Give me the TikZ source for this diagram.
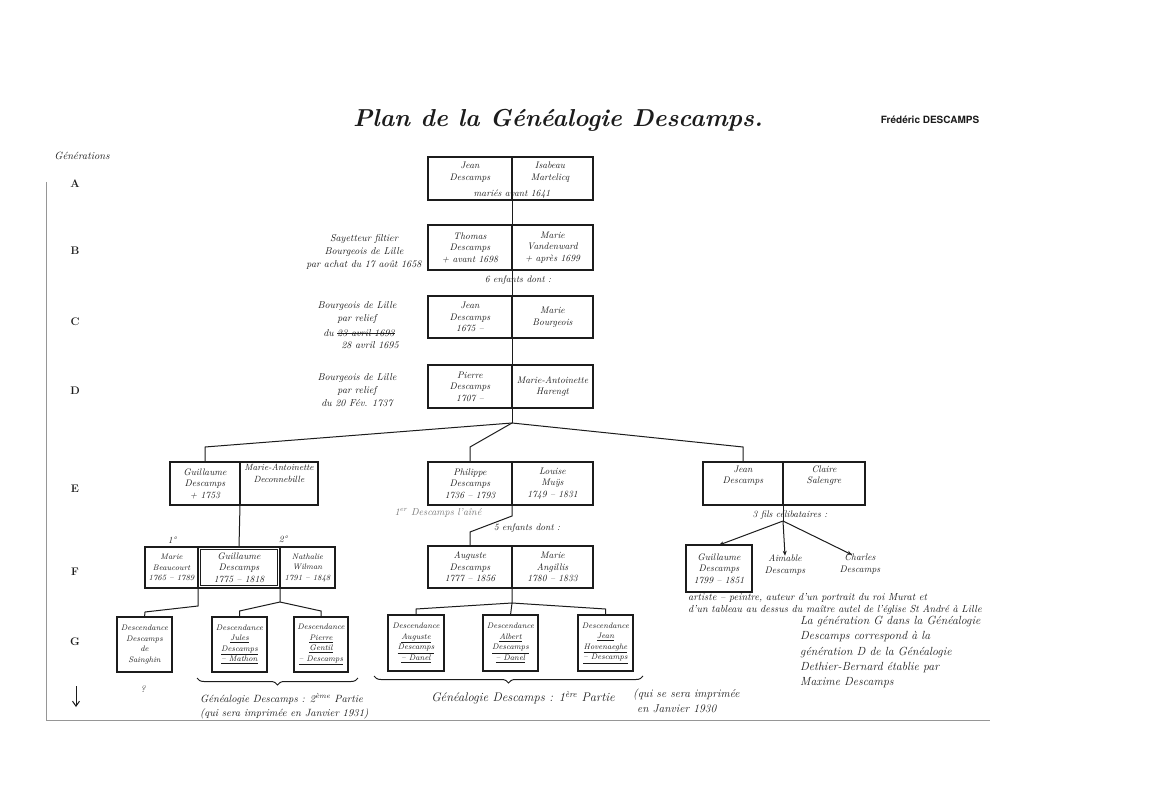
\documentclass[tikz,border=0pt]{standalone}
\usepackage{fontspec}
\newfontfamily\herosfont{TeX Gyre Heros}
\usetikzlibrary{decorations.pathreplacing,arrows.meta}
\definecolor{ink}{RGB}{28,28,28}
\definecolor{pencil}{RGB}{120,120,120}
\definecolor{frameline}{RGB}{150,150,150}
\newcommand\handfont{\fontsize{9.5}{11.5}\selectfont\itshape}
\newcommand\labfont{\fontsize{10}{13}\selectfont\itshape}
\newcommand\smallhand{\fontsize{8}{10.5}\selectfont\itshape}
\newcommand\genfont{\fontsize{11}{13}\selectfont\bfseries}
\begin{document}
\begin{tikzpicture}[x=1pt,y=-1pt,
  half/.style={draw=ink, line width=1.1pt, inner sep=0pt, outer sep=0pt, align=center, font=\handfont, text=ink},
  heavy/.style={half, line width=2pt},
  gbox/.style={half, font=\smallhand, minimum width=55pt, minimum height=55pt},
  lbl/.style={inner sep=0pt, align=center, font=\handfont, text=ink},
  note/.style={inner sep=0pt, anchor=west, align=left, font=\handfont, text=ink},
  gen/.style={inner sep=0pt, font=\genfont, text=ink},
  conn/.style={draw=ink, line width=1pt},
  brc/.style={draw=ink, line width=1pt, decorate, decoration={brace, amplitude=7pt, mirror}}]
\fill[white] (0,0) rectangle (1153,786);
\useasboundingbox (0,0) rectangle (1153,786);

% title
\node[lbl, font=\fontsize{24.5}{28}\selectfont\bfseries\itshape] (title) at (558,120) {Plan de la Généalogie Descamps.};
\node[lbl, font=\fontsize{10}{12}\selectfont\herosfont\bfseries] (author) at (930,120) {Frédéric DESCAMPS};

% generations column
\node[lbl, font=\fontsize{10.5}{12}\selectfont\itshape] (gtitle) at (82,156) {Générations};
\node[gen] (gA) at (75,184) {A};
\node[gen] (gB) at (75,251) {B};
\node[gen] (gC) at (75,322) {C};
\node[gen] (gD) at (75,391) {D};
\node[gen] (gE) at (75,489) {E};
\node[gen] (gF) at (75,572) {F};
\node[gen] (gG) at (75,642) {G};
\coordinate (arrS) at (76,686);
\coordinate (arrE) at (76,707);
\draw[conn, -{Straight Barb[length=5pt,width=7pt]}] (arrS) -- (arrE);

% frame
\coordinate (fr1) at (46,182);
\coordinate (fr2) at (46,720);
\coordinate (fr3) at (990,720);
\draw[frameline, line width=0.9pt] (fr1) -- (fr2) -- (fr3);

% generation A
\node[half, minimum width=84pt, minimum height=43pt] (Al) at (470,178.5) {};
\node[half, minimum width=81pt, minimum height=43pt] (Ar) at (552.5,178.5) {};
\node[lbl] (At1) at (470,172) {Jean\\Descamps};
\node[lbl] (At2) at (550,172) {Isabeau\\Martelicq};
\node[lbl] (At3) at (512,194) {mariés avant 1641};

% generation B
\node[half, minimum width=84pt, minimum height=45pt] (Bl) at (470,247.5) {Thomas\\Descamps\\+ avant 1698};
\node[half, minimum width=81pt, minimum height=45pt] (Br) at (552.5,247.5) {Marie\\Vandenward\\+ après 1699};
\node[lbl, font=\labfont] (Blab) at (364,252) {Sayetteur filtier\\Bourgeois de Lille\\par achat du 17 août 1658};
\node[lbl] (Bkids) at (518,280) {6 enfants dont :};

% generation C
\node[half, minimum width=84pt, minimum height=42pt] (Cl) at (470,317) {Jean\\Descamps\\1675 –};
\node[half, minimum width=81pt, minimum height=42pt] (Cr) at (552.5,317) {Marie\\Bourgeois};
\node[lbl, font=\labfont] (Clab) at (357,313) {Bourgeois de Lille\\par relief};
\node[lbl, font=\labfont, anchor=east] (Cdu) at (334,333) {du};
\node[lbl, font=\labfont, anchor=west] (Cstr) at (337,333) {23 avril 1693};
\draw[ink, line width=0.8pt] (Cstr.west) -- (Cstr.east);
\node[lbl, font=\labfont] (Cdate) at (370,345) {28 avril 1695};

% generation D
\node[half, minimum width=84pt, minimum height=43pt] (Dl) at (470,386.5) {Pierre\\Descamps\\1707 –};
\node[half, minimum width=81pt, minimum height=43pt] (Dr) at (552.5,386.5) {Marie-Antoinette\\Harengt};
\node[lbl, font=\labfont] (Dlab) at (357,390) {Bourgeois de Lille\\par relief\\du 20 Fév. 1737};

% spine
\coordinate (J) at (512,423);
\draw[conn] (Al.south east) -- (Bl.north east);
\draw[conn] (Bl.south east) -- (Cl.north east);
\draw[conn] (Cl.south east) -- (Dl.north east);
\draw[conn] (Dl.south east) -- (J);

% generation E
\node[half, minimum width=70pt, minimum height=43pt] (E1l) at (205,483.5) {Guillaume\\Descamps\\+ 1753};
\node[half, font=\fontsize{9}{11.5}\selectfont\itshape, minimum width=78pt, minimum height=43pt] (E1r) at (279,483.5) {Marie-Antoinette\\Deconnebille\\[9pt]};
\node[half, minimum width=84pt, minimum height=43pt] (E2l) at (470,483.5) {Philippe\\Descamps\\1736 – 1793};
\node[half, minimum width=81pt, minimum height=43pt] (E2r) at (552.5,483.5) {Louise\\Muÿs\\1749 – 1831};
\node[half, minimum width=80pt, minimum height=43pt] (E3l) at (743,483.5) {Jean\\Descamps\\[6pt]};
\node[half, minimum width=82pt, minimum height=43pt] (E3r) at (824,483.5) {Claire\\Salengre\\[6pt]};
\coordinate (jE1) at (205,447);
\coordinate (jE2) at (470,447);
\coordinate (jE3) at (743,447);
\draw[conn] (J) -- (jE1) -- (E1l.north);
\draw[conn] (J) -- (jE2) -- (E2l.north);
\draw[conn] (J) -- (jE3) -- (E3l.north);

% generation F (middle)
\node[inner sep=0pt, font=\labfont, text=pencil] (aine) at (438,513) {1\textsuperscript{er} Descamps l'aîné};
\node[lbl] (Ekids) at (527,528) {5 enfants dont :};
\node[heavy, minimum width=84pt, minimum height=42pt] (F2l) at (470,567) {Auguste\\Descamps\\1777 – 1856};
\node[heavy, minimum width=81pt, minimum height=42pt] (F2r) at (552.5,567) {Marie\\Angillis\\1780 – 1833};
\coordinate (kE2a) at (512,516);
\coordinate (kE2b) at (470,532);
\draw[conn] (E2l.south east) -- (kE2a) -- (kE2b) -- (F2l.north);

% generation F (left)
\node[lbl] (n1) at (172,540) {1°};
\node[lbl] (n2) at (283,539) {2°};
\node[half, font=\smallhand, minimum width=53pt, minimum height=41pt] (F1a) at (171.5,567.5) {Marie\\Beaucourt\\1765 – 1789};
\node[half, font=\handfont, minimum width=82pt, minimum height=41pt] (F1m) at (239,567.5) {Guillaume\\Descamps\\1775 – 1818};
\node[half, font=\smallhand, minimum width=55pt, minimum height=41pt] (F1c) at (307.5,567.5) {Nathalie\\Wilman\\1791 – 1848};
\draw[ink, line width=0.6pt] ([shift={(2.5pt,2.5pt)}]F1m.south west) rectangle ([shift={(-2.5pt,-2.5pt)}]F1m.north east);
\draw[conn] (E1l.south east) -- (F1m.north);

% generation F (right)
\node[lbl] (E3kids) at (790,515) {3 fils célibataires :};
\node[half, minimum width=66pt, minimum height=47pt] (GE) at (719,568.5) {Guillaume\\Descamps\\1799 – 1851};
\node[lbl] (Aim) at (785,565) {Aimable\\Descamps};
\node[lbl] (Cha) at (860,564) {Charles\\Descamps};
\coordinate (B3) at (783,521);
\draw[conn] (E3l.south east) -- (B3);
\draw[conn, -{Stealth[length=5pt,width=4pt]}] (B3) -- (GE.north);
\draw[conn, -{Stealth[length=5pt,width=4pt]}] (B3) -- ([yshift=-1pt]Aim.north);
\draw[conn, -{Stealth[length=5pt,width=4pt]}] (B3) -- ([xshift=-8pt,yshift=-1pt]Cha.north);
\node[note, font=\fontsize{10.2}{12}\selectfont\itshape] (GEnote) at (688,604) {artiste – peintre, auteur d'un portrait du roi Murat et\\d'un tableau au dessus du maître autel de l'église St André à Lille};
\node[note, font=\fontsize{11.8}{15.3}\selectfont\itshape] (Gnote) at (800,652) {La génération G dans la Généalogie\\Descamps correspond à la\\génération D de la Généalogie\\Dethier-Bernard établie par\\Maxime Descamps};

% generation G (left)
\node[gbox] (G1) at (144.5,644.5) {Descendance\\Descamps\\de\\Sainghin};
\node[gbox] (G2) at (239.5,644.5) {Descendance\\\underline{Jules}\\\underline{Descamps}\\\underline{– Mathon}};
\node[gbox, minimum width=54pt] (G3) at (321,644.5) {Descendance\\\underline{Pierre}\\\underline{Gentil}\\\underline{– Descamps}};
\node[lbl] (q) at (143,689) {?};
\coordinate (k1a) at (198,606);
\coordinate (k1b) at (145,612);
\coordinate (k2a) at (280,602);
\coordinate (k2b) at (239.5,611);
\coordinate (k2c) at (321,611);
\draw[conn] (F1m.south west) -- (k1a) -- (k1b) -- (G1.north);
\draw[conn] (F1m.south east) -- (k2a) -- (k2b) -- (G2.north);
\draw[conn] (k2a) -- (k2c) -- (G3.north);

% generation G (middle)
\node[gbox, minimum width=56pt, minimum height=56pt] (G4) at (416,643) {Descendance\\\underline{Auguste}\\\underline{Descamps}\\\underline{– Danel}};
\node[gbox, minimum height=56pt] (G5) at (510.5,643) {Descendance\\\underline{Albert}\\\underline{Descamps}\\\underline{– Danel}};
\node[gbox, minimum height=56pt] (G6) at (605.5,643) {Descendance\\\underline{Jean}\\\underline{Hovenaeghe}\\\underline{– Descamps}};
\coordinate (k3a) at (512,603);
\coordinate (k3b) at (416,609);
\coordinate (k3c) at (605.5,609);
\draw[conn] (F2l.south east) -- (k3a) -- (k3b) -- (G4.north);
\draw[conn] (k3a) -- (G5.north);
\draw[conn] (k3a) -- (k3c) -- (G6.north);

% braces and part notes
\coordinate (b1s) at (197,678);
\coordinate (b1e) at (358,678);
\coordinate (b2s) at (374,676);
\coordinate (b2e) at (643,676);
\draw[brc] (b1s) -- (b1e);
\draw[brc] (b2s) -- (b2e);
\node[note, font=\fontsize{10.5}{14}\selectfont\itshape] (P2) at (200,706) {Généalogie Descamps : 2\textsuperscript{ème} Partie\\(qui sera imprimée en Janvier 1931)};
\node[lbl, font=\fontsize{12.5}{14}\selectfont\itshape] (P1) at (523,698) {Généalogie Descamps : 1\textsuperscript{ère} Partie};
\node[note, font=\fontsize{11.5}{15}\selectfont\itshape] (P1b) at (633,701) {(qui se sera imprimée\\\ en Janvier 1930};
\end{tikzpicture}
\end{document}
